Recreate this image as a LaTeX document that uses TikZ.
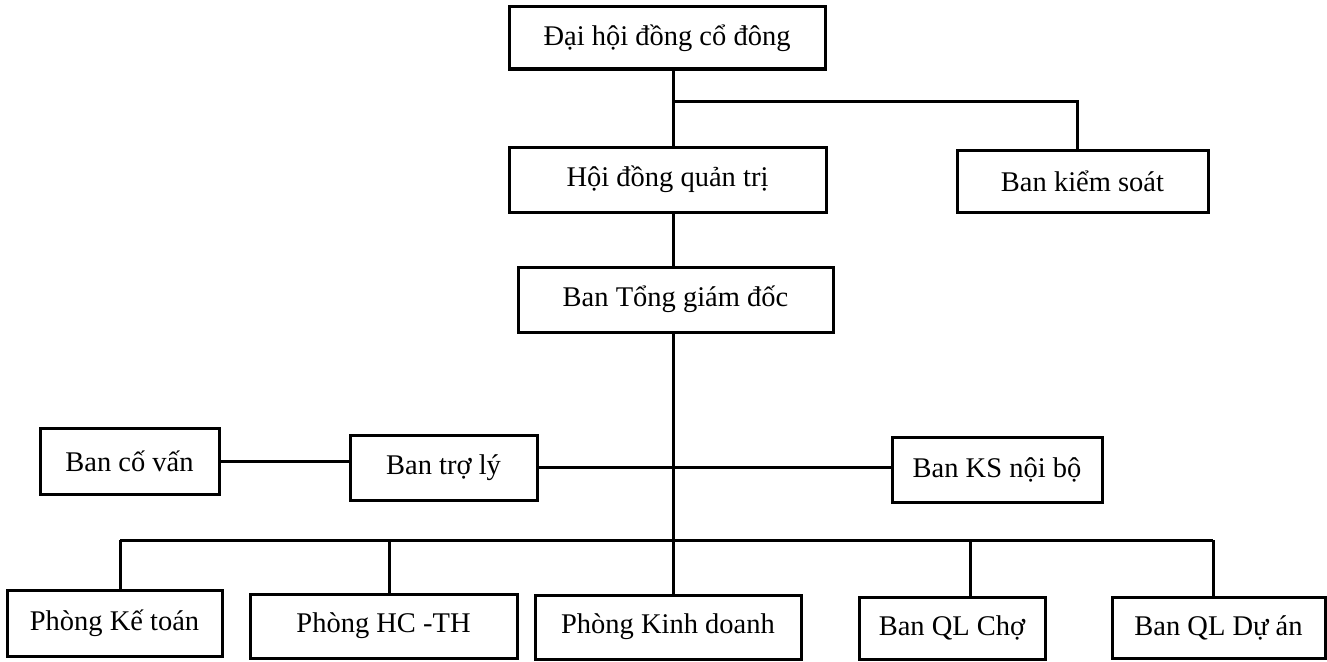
\documentclass[tikz,border=0pt]{standalone}
\usepackage{fontspec}
\setmainfont{Liberation Serif}
\begin{document}
\begin{tikzpicture}[x=1pt,y=-1pt,
  box/.style={draw=black,line width=3pt,inner sep=0pt,anchor=center,
    font=\fontsize{28.5}{32}\selectfont},
  link/.style={draw=black,line width=3pt}]
\useasboundingbox[fill=white] (0,0) rectangle (1327,661);
% boxes (centre, size)
\node[box,minimum width=316,minimum height=62] (dh) at (667,38) {Đại hội đồng cổ đông};
\node[box,minimum width=317,minimum height=65] (hd) at (667.5,179.5) {Hội đồng quản trị};
\node[box,minimum width=251,minimum height=62] (bks) at (1082.5,181) {Ban kiểm soát};
\node[box,minimum width=315,minimum height=65] (tgd) at (675.5,299.5) {Ban Tổng giám đốc};
\node[box,minimum width=179,minimum height=66] (bcv) at (129.5,461) {Ban cố vấn};
\node[box,minimum width=187,minimum height=65] (btl) at (443.5,467.5) {Ban trợ lý};
\node[box,minimum width=210,minimum height=65] (ksnb) at (997,469.5) {Ban KS nội bộ};
\node[box,minimum width=215,minimum height=66] (pkt) at (114.5,623) {Phòng Kế toán};
\node[box,minimum width=267,minimum height=64] (phc) at (383.5,626) {Phòng HC -TH};
\node[box,minimum width=266,minimum height=64] (pkd) at (668,627) {Phòng Kinh doanh};
\node[box,minimum width=186,minimum height=62] (qlc) at (952,628) {Ban QL Chợ};
\node[box,minimum width=213,minimum height=61] (qlda) at (1218.5,627.5) {Ban QL Dự án};
% junction coordinates
\coordinate (j1) at (673,101);
\coordinate (j2) at (1077,101);
\coordinate (bl) at (120,540);
\coordinate (br) at (1213,540);
\coordinate (d2) at (389,540);
\coordinate (d4) at (970,540);
% connectors
\draw[link] (dh.south -| j1) -- (hd.north -| j1);
\draw[link] (j1) -- (j2) -- (j2 |- bks.north);
\draw[link] (hd.south -| j1) -- (tgd.north -| j1);
\draw[link] (tgd.south -| j1) -- (pkd.north -| j1);
\draw[link] (bcv.east) -- (bcv.east -| btl.west);
\draw[link] (btl.east) -- (btl.east -| ksnb.west);
\draw[link] (bl) -- (br);
\draw[link] (bl) -- (bl |- pkt.north);
\draw[link] (d2) -- (d2 |- phc.north);
\draw[link] (d4) -- (d4 |- qlc.north);
\draw[link] (br) -- (br |- qlda.north);
\end{tikzpicture}
\end{document}
